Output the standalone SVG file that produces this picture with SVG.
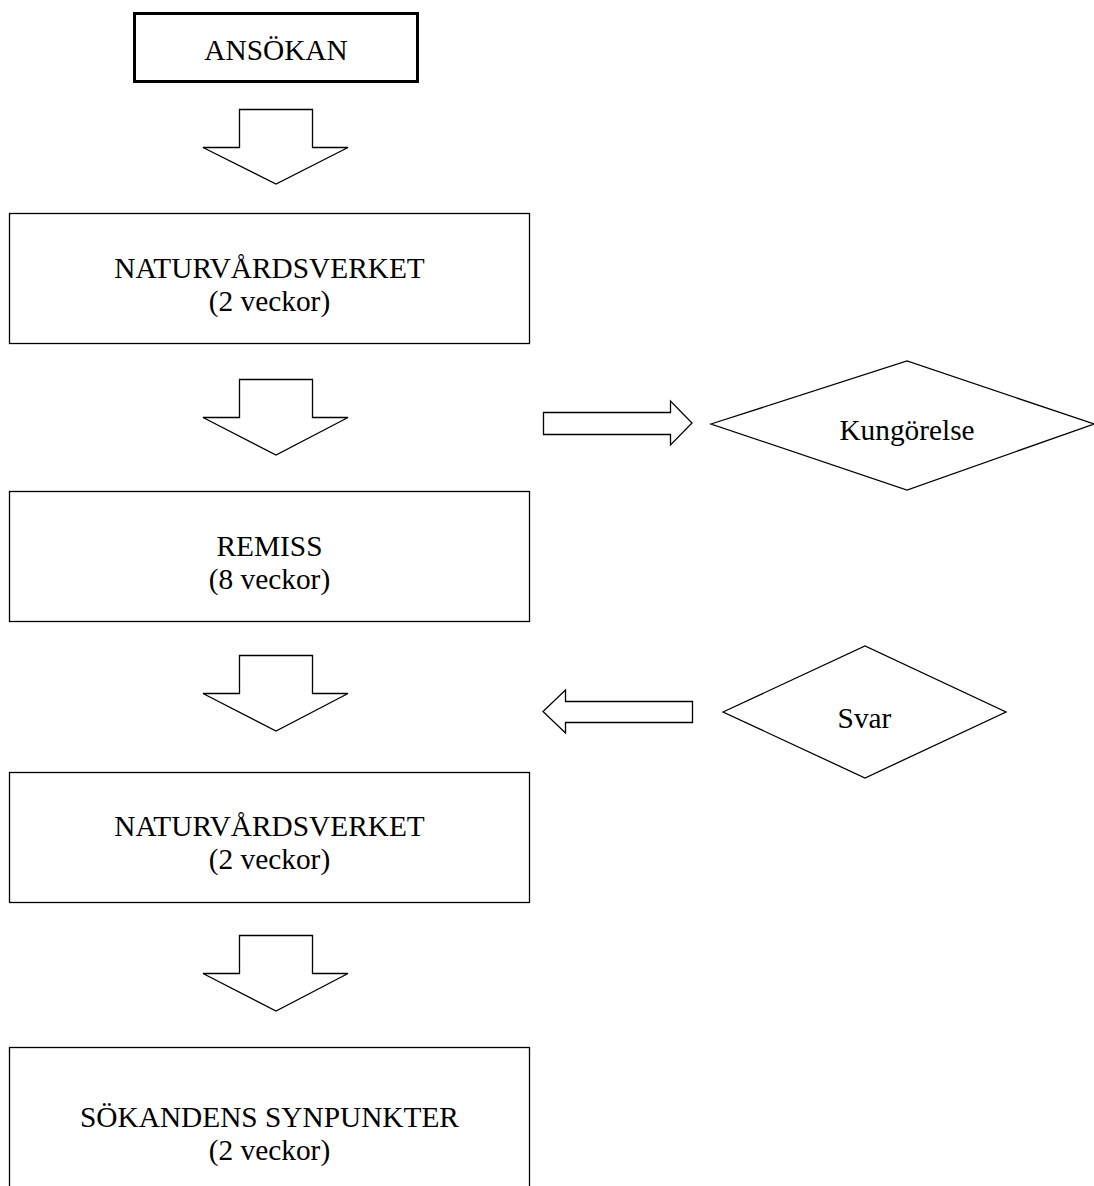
<svg xmlns="http://www.w3.org/2000/svg" width="1094" height="1186" viewBox="0 0 1094 1186">
<style>
.box{fill:#fff;stroke:#000;stroke-width:1.3}
.thick{fill:#fff;stroke:#000;stroke-width:3}
.arr{fill:#fff;stroke:#000;stroke-width:1.3;stroke-linejoin:miter}
text{font-family:"Liberation Serif","Times New Roman",serif;font-size:29.33px;fill:#000;text-anchor:middle}
</style>
<rect width="1094" height="1186" fill="#fff"/>
<g id="ansokan">
<rect class="thick" x="134.5" y="13.5" width="283" height="68"/>
<text x="276" y="60">ANSÖKAN</text>
</g>
<g id="naturvardsverket1">
<rect class="box" x="9.5" y="213.5" width="520" height="130"/>
<text x="269.5" y="278">NATURVÅRDSVERKET</text>
<text x="269.5" y="311">(2 veckor)</text>
</g>
<g id="remiss">
<rect class="box" x="9.5" y="491.5" width="520" height="130"/>
<text x="269.5" y="556">REMISS</text>
<text x="269.5" y="589">(8 veckor)</text>
</g>
<g id="naturvardsverket2">
<rect class="box" x="9.5" y="772.5" width="520" height="130"/>
<text x="269.5" y="836">NATURVÅRDSVERKET</text>
<text x="269.5" y="869">(2 veckor)</text>
</g>
<g id="sokandens">
<rect class="box" x="9.5" y="1047.5" width="520" height="150"/>
<text x="269.5" y="1127">SÖKANDENS SYNPUNKTER</text>
<text x="269.5" y="1160">(2 veckor)</text>
</g>
<g id="kungorelse">
<polygon class="box" points="711,424 907,361 1094,424 907,490"/>
<text x="907" y="440">Kungörelse</text>
</g>
<g id="svar">
<polygon class="box" points="723,712 865,646 1006,712 865,778"/>
<text x="864.5" y="728">Svar</text>
</g>
<g id="connectors">
<polygon class="arr" points="239.5,109.5 312.5,109.5 312.5,147.5 348,147.5 276,184 203,147.5 239.5,147.5"/>
<polygon class="arr" points="239.5,379.5 312.5,379.5 312.5,417.5 348,417.5 276,455 203,417.5 239.5,417.5"/>
<polygon class="arr" points="239.5,655.5 312.5,655.5 312.5,693.5 348,693.5 276,731 203,693.5 239.5,693.5"/>
<polygon class="arr" points="239.5,935.5 312.5,935.5 312.5,973.5 348,973.5 276,1011 203,973.5 239.5,973.5"/>
<polygon class="arr" points="543.5,412.5 670.5,412.5 670.5,401 692,423 670.5,445 670.5,434.5 543.5,434.5"/>
<polygon class="arr" points="692.5,701.5 565.5,701.5 565.5,690 543,711.5 565.5,733 565.5,722.5 692.5,722.5"/>
</g>
</svg>
